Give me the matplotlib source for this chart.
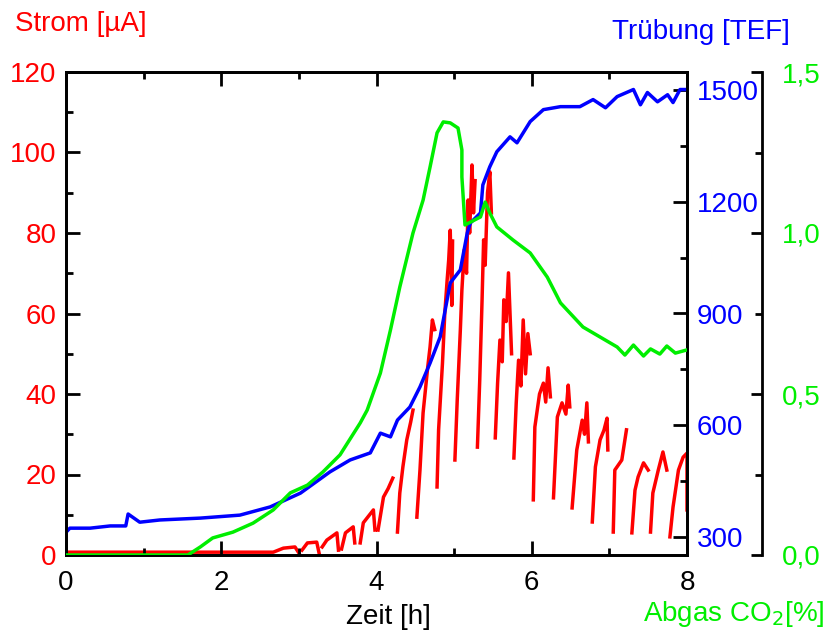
import numpy as np
import matplotlib
matplotlib.use("Agg")
import matplotlib.pyplot as plt
from matplotlib.ticker import MultipleLocator, FuncFormatter

plt.rcParams['font.family'] = ['Liberation Sans', 'DejaVu Sans']

# Strom [uA] - sawtooth, teeth separated by NaN
strom_t = [0.0, 1.0, 2.67, 2.80, 2.95, 3.00, np.nan,
           3.04, 3.11, 3.23, 3.26, np.nan,
           3.30, 3.36, 3.49, 3.51, np.nan,
           3.55, 3.60, 3.70, 3.72, np.nan,
           3.79, 3.83, 3.96, 3.98, np.nan,
           4.02, 4.09, 4.15, 4.21, np.nan,
           4.27, 4.30, 4.34, 4.39, 4.44, 4.47, np.nan,
           4.52, 4.56, 4.60, 4.66, 4.69, 4.72, 4.75, np.nan,
           4.78, 4.80, 4.85, 4.88, 4.91, 4.93, 4.95, 4.97, 4.98, np.nan,
           5.01, 5.04, 5.08, 5.10, 5.13, 5.16, 5.18, 5.20, 5.23, 5.25, 5.27, np.nan,
           5.30, 5.33, 5.36, 5.38, 5.40, 5.43, 5.46, 5.48, np.nan,
           5.53, 5.56, 5.59, 5.62, 5.64, 5.67, 5.70, 5.72, 5.74, np.nan,
           5.77, 5.80, 5.83, 5.86, 5.89, 5.92, 5.95, 5.98, np.nan,
           6.02, 6.04, 6.10, 6.15, 6.18, 6.21, 6.24, np.nan,
           6.28, 6.33, 6.39, 6.44, 6.47, 6.49, np.nan,
           6.52, 6.58, 6.65, 6.68, 6.71, 6.73, np.nan,
           6.78, 6.82, 6.88, 6.93, 6.97, 6.98, np.nan,
           7.05, 7.07, 7.16, 7.22, np.nan,
           7.29, 7.33, 7.37, 7.44, 7.50, np.nan,
           7.53, 7.56, 7.63, 7.69, 7.74, np.nan,
           7.78, 7.82, 7.89, 7.95, 8.00, 8.00]
strom = [0.7, 0.7, 0.7, 1.7, 2.0, 0.5, np.nan,
         1.2, 3.0, 3.2, 0.5, np.nan,
         2.0, 3.7, 5.5, 1.2, np.nan,
         1.5, 5.5, 7.0, 3.0, np.nan,
         3.0, 8.0, 11.2, 6.2, np.nan,
         6.2, 14.4, 16.5, 19.1, np.nan,
         5.7, 15.4, 21.9, 28.6, 33.0, 36.0, np.nan,
         9.4, 21.1, 35.3, 46.7, 51.7, 58.4, 56.0, np.nan,
         16.9, 31.1, 47.7, 60.1, 68.3, 73.3, 80.7, 62.0, 78.0, np.nan,
         23.6, 38.5, 55.9, 65.8, 75.8, 70.0, 88.2, 80.0, 96.9, 85.0, 93.0, np.nan,
         26.8, 43.5, 63.4, 78.3, 72.0, 90.0, 95.2, 85.0, np.nan,
         29.1, 42.7, 53.4, 48.0, 63.4, 58.0, 70.1, 60.0, 50.0, np.nan,
         24.1, 37.8, 48.4, 42.0, 58.4, 45.0, 55.0, 50.0, np.nan,
         13.7, 31.8, 40.0, 42.7, 38.0, 46.5, 39.3, np.nan,
         14.2, 34.3, 37.8, 35.0, 42.2, 36.8, np.nan,
         11.7, 26.1, 33.5, 30.0, 37.8, 28.1, np.nan,
         8.2, 21.9, 28.6, 31.0, 34.0, 26.1, np.nan,
         5.7, 21.1, 23.6, 31.1, np.nan,
         5.5, 16.1, 19.4, 22.9, 21.1, np.nan,
         5.7, 15.4, 21.1, 25.6, 21.1, np.nan,
         4.5, 11.9, 21.1, 24.3, 25.3, 11.2]

# Truebung [TEF]
trueb_t = [0.0, 0.05, 0.31, 0.57, 0.77, 0.80, 0.95, 1.21, 1.73, 2.24, 2.63,
           3.02, 3.40, 3.66, 3.92, 4.05, 4.18, 4.27, 4.43, 4.56, 4.69, 4.82,
           4.95, 5.08, 5.17, 5.21, 5.34, 5.37, 5.46, 5.55, 5.72, 5.81, 5.98,
           6.15, 6.37, 6.62, 6.79, 6.95, 7.10, 7.31, 7.40, 7.49, 7.62, 7.75,
           7.82, 7.91, 8.00]
trueb = [313, 324, 324, 330, 330, 362, 340, 346, 351, 359, 381,
         418, 475, 507, 526, 579, 569, 614, 649, 703, 767, 837,
         982, 1017, 1117, 1143, 1170, 1245, 1294, 1334, 1374, 1358, 1415,
         1447, 1455, 1455, 1474, 1452, 1482, 1501, 1460, 1493, 1468, 1487,
         1466, 1501, 1501]

# Abgas CO2 [%]
co2_t = [0.0, 1.57, 1.73, 1.89, 2.15, 2.41, 2.67, 2.89, 3.11, 3.31, 3.53,
         3.79, 3.88, 4.05, 4.18, 4.30, 4.47, 4.60, 4.69, 4.78, 4.86, 4.95,
         5.05, 5.10, 5.10, 5.14, 5.34, 5.40, 5.46, 5.55, 5.76, 5.98, 6.20,
         6.37, 6.66, 6.88, 7.10, 7.20, 7.31, 7.44, 7.53, 7.65, 7.74, 7.85, 8.00]
co2 = [0.0, 0.0, 0.025, 0.053, 0.071, 0.099, 0.140, 0.193, 0.217, 0.258, 0.311,
       0.410, 0.450, 0.565, 0.699, 0.832, 1.000, 1.102, 1.205, 1.311, 1.345, 1.342,
       1.326, 1.258, 1.174, 1.025, 1.050, 1.096, 1.062, 1.019, 0.978, 0.938, 0.863,
       0.783, 0.708, 0.677, 0.646, 0.621, 0.652, 0.618, 0.640, 0.624, 0.649, 0.627, 0.637]

RED = '#ff0000'
BLUE = '#0000ff'
GREEN = '#00ee00'

fig = plt.figure(figsize=(8.3, 6.34), dpi=100)
ax = fig.add_axes([66/830, 79/634, 621/830, 483/634])
ax2 = ax.twinx()
ax3 = ax.twinx()

ax.plot(strom_t, strom, color=RED, lw=2.5, zorder=1)
ax2.plot(trueb_t, trueb, color=BLUE, lw=2.5, zorder=2)
ax3.plot(co2_t, co2, color=GREEN, lw=2.5, zorder=3)

ax.set_xlim(0, 8)
ax.set_ylim(0, 120)
ax2.set_ylim(252, 1548)
ax3.set_ylim(0, 1.5)

for a in (ax, ax2, ax3):
    for s in a.spines.values():
        s.set_linewidth(2)

ax.xaxis.set_major_locator(MultipleLocator(2))
ax.xaxis.set_minor_locator(MultipleLocator(1))
ax.yaxis.set_major_locator(MultipleLocator(20))
ax.yaxis.set_minor_locator(MultipleLocator(10))
ax.tick_params(which='both', direction='in', top=True, right=False, width=2, labelsize=20)
ax.tick_params(which='major', length=10)
ax.tick_params(which='minor', length=5)
ax.tick_params(axis='y', colors=RED, pad=7)
ax.tick_params(axis='x', colors='black', pad=11)
ax.spines['left'].set_color('black')

ax2.yaxis.set_major_locator(MultipleLocator(300))
ax2.yaxis.set_minor_locator(MultipleLocator(150))
ax2.tick_params(which='both', direction='in', width=2, labelsize=20, colors=BLUE, pad=7)
ax2.tick_params(which='major', length=10)
ax2.tick_params(which='minor', length=5)

ax3.spines['right'].set_position(('axes', 1 + 75/621))
for side in ('left', 'top', 'bottom'):
    ax3.spines[side].set_visible(False)
ax3.yaxis.set_major_locator(MultipleLocator(0.5))
ax3.yaxis.set_minor_locator(MultipleLocator(0.25))
ax3.yaxis.set_major_formatter(FuncFormatter(lambda v, p: f"{v:.1f}".replace('.', ',')))
ax3.tick_params(which='both', direction='in', width=2, labelsize=20, colors=GREEN, pad=14)
ax3.tick_params(which='major', length=8)
ax3.tick_params(which='minor', length=5)
for a in (ax2, ax3):
    for s in a.spines.values():
        s.set_color('black')
for a in (ax, ax2, ax3):
    a.tick_params(which='both', color='black')

fig.text(15/830, 1 - 24/634, 'Strom [µA]', color=RED, fontsize=20, va='center', ha='left')
fig.text(790/830, 1 - 32/634, 'Trübung [TEF]', color=BLUE, fontsize=20, va='center', ha='right')
fig.text(388/830, 1 - 617/634, 'Zeit [h]', color='black', fontsize=20, va='center', ha='center')
fig.text(825/830, 1 - 614/634, 'Abgas CO$_2$[%]', color=GREEN, fontsize=20, va='center', ha='right')

fig.savefig('out.png', dpi=100)
